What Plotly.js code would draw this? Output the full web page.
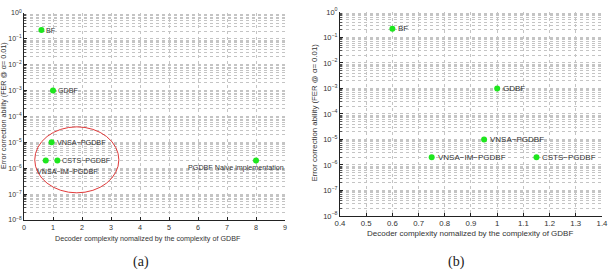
<!DOCTYPE html>
<html>
<head>
<meta charset="utf-8">
<script src="https://cdn.plot.ly/plotly-3.0.1.min.js"></script>
<style>
  html, body { margin: 0; padding: 0; background: #fff; }
  #chart { width: 608px; height: 272px; }
</style>
</head>
<body>
<div id="chart"></div>
<script>
// Decoder comparison: normalized complexity vs. FER at alpha = 0.01
const decoders   = ['BF', 'GDBF', 'VNSA−PGDBF', 'VNSA−IM−PGDBF', 'CSTS−PGDBF', 'PGDBF Naive implementation'];
const complexity = [0.6, 1.0, 0.95, 0.75, 1.15, 8];
const fer        = [0.22, 1e-3, 1e-5, 2e-6, 2e-6, 2e-6];

// panel (b) only shows the low-complexity decoders
const zoomDecoders   = decoders.slice(0, 5);
const zoomComplexity = complexity.slice(0, 5);
const zoomFer        = fer.slice(0, 5);

const xTitle = 'Decoder complexity nomalized by the complexity of GDBF';
const yTitle = 'Error correction ability (FER @ α= 0.01)';

const decadeVals = [];
const decadeText = [];
for (let e = -8; e <= 0; e++) {
  decadeVals.push(Math.pow(10, e));
  decadeText.push('10<sup>' + (e < 0 ? '−' : '') + Math.abs(e) + '</sup>');
}
const minorVals = [];
for (let e = -8; e < 0; e++) {
  for (let d = 2; d <= 9; d++) minorVals.push(d * Math.pow(10, e));
}

const FONT = 'Liberation Sans, Arial, sans-serif';
const GREEN = '#1ee61e';
const GRID = '#c4c4c4';

function yAxis(domain, anchor, size) {
  return {
    type: 'log', domain: domain, anchor: anchor,
    range: [-8, 0],
    tickmode: 'array', tickvals: decadeVals, ticktext: decadeText,
    tickfont: { family: FONT, size: size, color: '#333' },
    ticks: 'inside', ticklen: 3, tickcolor: '#222',
    showline: true, linecolor: '#222', linewidth: 1,
    showgrid: true, gridcolor: GRID, griddash: 'dot', gridwidth: 1,
    minor: { tickmode: 'array', tickvals: minorVals, ticks: 'inside', ticklen: 2,
             tickcolor: '#555', showgrid: true, gridcolor: GRID, griddash: 'dot' },
    zeroline: false, fixedrange: true
  };
}
function xAxis(domain, anchor, range, dtick, size) {
  return {
    domain: domain, anchor: anchor, range: range,
    tickmode: 'linear', tick0: range[0], dtick: dtick,
    tickfont: { family: FONT, size: size, color: '#333' },
    ticklabeloverflow: 'allow',
    ticks: 'inside', ticklen: 3, tickcolor: '#222',
    showline: true, linecolor: '#222', linewidth: 1,
    showgrid: true, gridcolor: GRID, griddash: 'dot', gridwidth: 1,
    zeroline: false, fixedrange: true
  };
}

const traces = [
  { x: complexity, y: fer, xaxis: 'x', yaxis: 'y', type: 'scatter', mode: 'markers',
    marker: { color: GREEN, size: 6 }, hoverinfo: 'skip' },
  { x: zoomComplexity, y: zoomFer, xaxis: 'x2', yaxis: 'y2', type: 'scatter', mode: 'markers',
    marker: { color: GREEN, size: 6 }, hoverinfo: 'skip' }
];

const labelFont  = { family: FONT, size: 7.2, color: '#333' };
const labelFontB = { family: FONT, size: 8, color: '#333' };

// point labels, panel (a)
const annA = decoders.map((name, i) => {
  const a = { xref: 'x', yref: 'y', x: complexity[i], y: Math.log10(fer[i]), text: name,
              showarrow: false, xanchor: 'left', yanchor: 'middle', xshift: 3, font: labelFont };
  if (name === 'VNSA−IM−PGDBF') { a.xshift = -11; a.yshift = -11; }
  if (name === 'PGDBF Naive implementation') { a.xanchor = 'right'; a.xshift = 30; a.yshift = -7; }
  return a;
});
// point labels, panel (b)
const annB = zoomDecoders.map((name, i) => ({
  xref: 'x2', yref: 'y2', x: zoomComplexity[i], y: Math.log10(zoomFer[i]), text: name,
  showarrow: false, xanchor: 'left', yanchor: 'middle', xshift: 4, font: labelFontB
}));

const serif = { family: 'Liberation Serif, DejaVu Serif, serif', size: 14, color: '#222' };
const titleAnn = [
  { xref: 'paper', yref: 'paper', x: 0.2426, y: 0.125, text: xTitle, showarrow: false,
    font: { family: FONT, size: 7.2, color: '#333' }, xanchor: 'center', yanchor: 'middle' },
  { xref: 'paper', yref: 'paper', x: 0.773, y: 0.143, text: xTitle, showarrow: false,
    font: { family: FONT, size: 8, color: '#333' }, xanchor: 'center', yanchor: 'middle' },
  { xref: 'paper', yref: 'paper', x: 0.005, y: 0.61, text: yTitle, showarrow: false, textangle: -90,
    font: { family: FONT, size: 7.2, color: '#333' }, xanchor: 'center', yanchor: 'middle' },
  { xref: 'paper', yref: 'paper', x: 0.518, y: 0.586, text: yTitle, showarrow: false, textangle: -90,
    font: { family: FONT, size: 7.8, color: '#333' }, xanchor: 'center', yanchor: 'middle' },
  { xref: 'paper', yref: 'paper', x: 0.232, y: 0.037, text: '(a)', showarrow: false, font: serif,
    xanchor: 'center', yanchor: 'middle' },
  { xref: 'paper', yref: 'paper', x: 0.75, y: 0.037, text: '(b)', showarrow: false, font: serif,
    xanchor: 'center', yanchor: 'middle' }
];

const layout = {
  width: 608, height: 272,
  margin: { l: 0, r: 0, t: 0, b: 0 },
  paper_bgcolor: '#fff', plot_bgcolor: '#fff',
  showlegend: false,
  xaxis:  xAxis([0.0395, 0.4688], 'y', [0, 9], 1, 7.2),
  yaxis:  yAxis([0.1912, 0.9522], 'x', 7),
  xaxis2: xAxis([0.5592, 0.9901], 'y2', [0.4, 1.40001], 0.1, 7.8),
  yaxis2: yAxis([0.2059, 0.9559], 'x2', 7.5),
  shapes: [
    { type: 'circle', xref: 'x', yref: 'y', x0: 0.37, x1: 3.27, y0: Math.pow(10, -6.95), y1: Math.pow(10, -4.4),
      line: { color: '#e03a3a', width: 1 }, fillcolor: 'rgba(0,0,0,0)' }
  ],
  annotations: annA.concat(annB, titleAnn)
};

Plotly.newPlot('chart', traces, layout, { staticPlot: true, displayModeBar: false });
</script>
</body>
</html>
